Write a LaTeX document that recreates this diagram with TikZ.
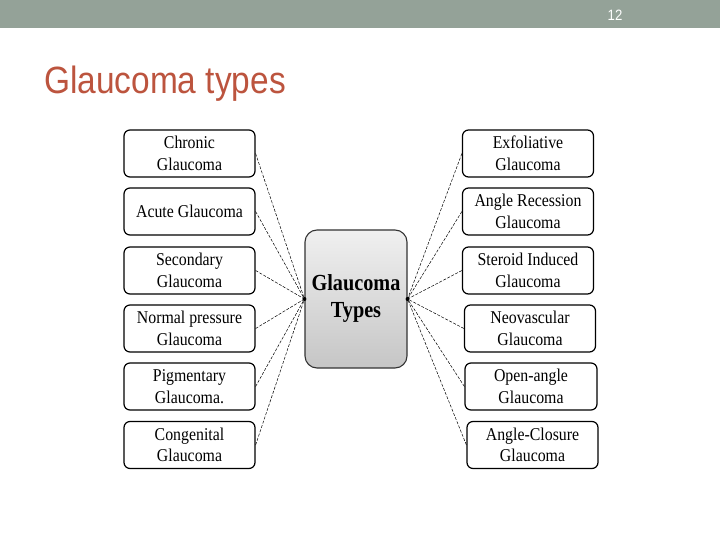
\documentclass[tikz,border=0pt]{standalone}
\usepackage{fontspec}
\setmainfont{Liberation Serif}
\newfontfamily\narrowsans[FakeStretch=0.88]{Liberation Sans}
\newfontfamily\boxfont[FakeStretch=0.88]{Liberation Serif}
\usepackage{xcolor}

\definecolor{barcolor}{RGB}{148,162,152}
\definecolor{titlecolor}{RGB}{188,84,62}

\tikzset{
  typebox/.style={draw, rounded corners=6pt, line width=1.2pt, minimum width=131pt,
    minimum height=47pt, align=center, inner sep=1pt, text=black,
    font=\boxfont\fontsize{18}{21.5}\selectfont},
  mainbox/.style={draw=black!80, rounded corners=12pt, line width=1.1pt, minimum width=102pt,
    minimum height=138pt, align=center, top color=gray!12, bottom color=gray!45,
    font=\boxfont\bfseries\fontsize{23}{27}\selectfont},
  link/.style={dash pattern=on 3pt off 1.5pt, line width=0.5pt},
}

\begin{document}
\begin{tikzpicture}[x=1pt,y=-1pt]
\useasboundingbox (0,0) rectangle (720,540);

% header bar
\fill[barcolor] (0,0) rectangle (720,28);
\node[font=\narrowsans\fontsize{15}{17}\selectfont, text=white] (pagenum) at (615,15) {12};
\node[font=\narrowsans\fontsize{38}{44}\selectfont, text=titlecolor, anchor=base west, inner sep=0pt] (title) at (44,94) {Glaucoma types};

% centre box
\node[mainbox] (types) at (356,299) {Glaucoma\\Types};

% left column
\node[typebox] (l1) at (189.5,153.5) {Chronic\\Glaucoma};
\node[typebox] (l2) at (189.5,211.5) {Acute Glaucoma};
\node[typebox] (l3) at (189.5,270.5) {Secondary\\Glaucoma};
\node[typebox] (l4) at (189.5,328.5) {Normal pressure\\Glaucoma};
\node[typebox] (l5) at (189.5,386.5) {Pigmentary\\Glaucoma.};
\node[typebox] (l6) at (189.5,445) {Congenital\\Glaucoma};

% right column
\node[typebox] (r1) at (528,153.5) {Exfoliative\\Glaucoma};
\node[typebox] (r2) at (528,211.5) {Angle Recession\\Glaucoma};
\node[typebox] (r3) at (528,270.5) {Steroid Induced\\Glaucoma};
\node[typebox] (r4) at (530,328.5) {Neovascular\\Glaucoma};
\node[typebox, minimum width=132pt] (r5) at (531,386.5) {Open-angle\\Glaucoma};
\node[typebox] (r6) at (532.5,445) {Angle-Closure\\Glaucoma};

% dashed links
\draw[link] (l1.east) -- (types.west);
\draw[link] (l2.east) -- (types.west);
\draw[link] (l3.east) -- (types.west);
\draw[link] (l4.east) -- (types.west);
\draw[link] (l5.east) -- (types.west);
\draw[link] (l6.east) -- (types.west);
\draw[link] (r1.west) -- (types.east);
\draw[link] (r2.west) -- (types.east);
\draw[link] (r3.west) -- (types.east);
\draw[link] (r4.west) -- (types.east);
\draw[link] (r5.west) -- (types.east);
\draw[link] (r6.west) -- (types.east);

\fill (types.west) circle (2);
\fill (types.east) circle (2);
\end{tikzpicture}
\end{document}
